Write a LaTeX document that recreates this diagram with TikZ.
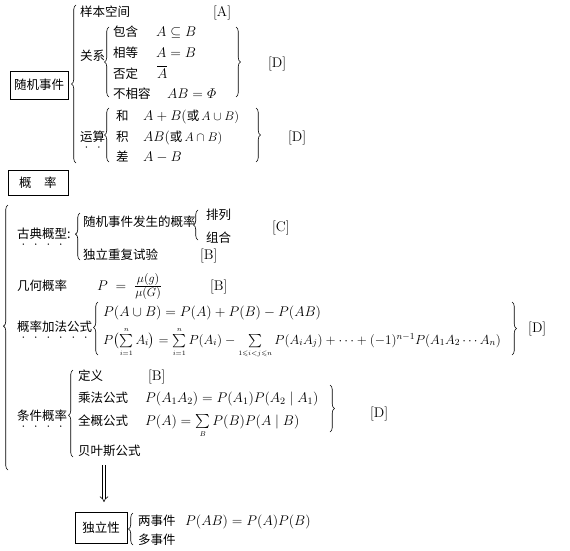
\RequirePackage{fix-cm}
\documentclass[tikz,border=0pt]{standalone}
\usepackage{amsmath,amssymb}
\usepackage[no-math]{fontspec}
\setmainfont{Noto Sans CJK SC}
\usetikzlibrary{decorations.pathreplacing,arrows.meta,calc}
\newcommand\lab[1]{$[\mathrm{#1}]$}
\newcommand\fracpart[1]{\mbox{\fontsize{12}{14}\selectfont$#1$}}
\tikzset{
  t/.style={anchor=base west, inner sep=0pt, font=\fontsize{12.5}{15}\selectfont},
  m/.style={anchor=base west, inner sep=0pt, font=\fontsize{14}{17}\selectfont},
  brc/.style={decorate, decoration={brace, amplitude=4.5pt, #1}, line width=0.6pt},
  brc/.default={aspect=0.5},
  boxed/.style={draw, line width=0.8pt, inner sep=0pt, font=\fontsize{12.5}{15}\selectfont},
  emdot/.style={fill=black},
}
\newcommand\dotsunder[2]{\foreach \i in {1,...,#2} \fill[emdot] ($(#1.base west)+(12.5*\i-6.25,6)$) circle (0.75pt);}
\begin{document}
\begin{tikzpicture}[x=1pt,y=-1pt]
\useasboundingbox (0,0) rectangle (570,551);
% ---------- section 1 ----------
\node[boxed, minimum width=58pt, minimum height=28pt] (sjsj) at (39,85) {随机事件};
\draw[brc] (76,163) -- (76,5);
\node[t] (ybkj) at (80,17) {样本空间};
\node[m] (labA) at (213,17) {\lab{A}};
\node[t] (gx) at (80,60) {关系};
\draw[brc] (109,97) -- (109,27);
\node[t] (bh) at (113,37) {包含};
\node[m] (bhm) at (156,37) {$A\subseteq B$};
\node[t] (xd) at (113,58) {相等};
\node[m] (xdm) at (156,58) {$A = B$};
\node[t] (fd) at (113,78) {否定};
\node[m] (fdm) at (157,78) {$\overline{A}$};
\node[t] (bxr) at (113,98) {不相容};
\node[m] (bxrm) at (167,98) {$AB = \varPhi$};
\draw[brc] (236,27) -- (236,97);
\node[m] (labD1) at (268,67) {\lab{D}};
\node[t] (ys) at (80,141) {运算};
\dotsunder{ys}{2}
\draw[brc] (109,162) -- (109,108);
\node[t] (he) at (116,120) {和};
\node[m] (hem) at (143,120) {$A+B($\fontsize{12.5}{15}\selectfont 或$\,A\cup B)$};
\node[t] (ji) at (116,141) {积};
\node[m] (jim) at (143,141) {$AB($\fontsize{12.5}{15}\selectfont 或$\,A\cap B)$};
\node[t] (cha) at (116,161) {差};
\node[m] (cham) at (143,161) {$A-B$};
\draw[brc] (256,108) -- (256,162);
\node[m] (labD2) at (288,141) {\lab{D}};
% ---------- section 2 ----------
\node[boxed, minimum width=60pt, minimum height=25pt] (gl) at (38,183) {概\quad 率};
\draw[brc={aspect=0.543}] (8,470) -- (8,205);
\node[t] (gdgx) at (17,238) {古典概型:};
\dotsunder{gdgx}{4}
\draw[brc={aspect=0.55}] (80,260) -- (80,213);
\node[t] (fsgl) at (83,226) {随机事件发生的概率};
\draw[brc] (198,240) -- (198,210);
\node[t] (pl) at (206,219) {排列};
\node[t] (zh) at (206,242) {组合};
\node[m] (labC) at (272,231) {\lab{C}};
\node[t] (dlcf) at (83,259) {独立重复试验};
\node[m] (labB1) at (200,259) {\lab{B}};
\node[t] (jhgl) at (17,290) {几何概率};
\node[m] (jhglm) at (97,290) {$P\;=\;\frac{\fracpart{\mu(g)}}{\fracpart{\mu(G)}}$};
\node[m] (labB2) at (210,290) {\lab{B}};
\node[t] (jf) at (17,331) {概率加法公式};
\dotsunder{jf}{6}
\draw[brc={aspect=0.52}] (98,355) -- (98,302);
\node[m] (jf1) at (103,316) {$P(A\cup B)=P(A)+P(B)-P(AB)$};
\node[m, font=\fontsize{13.2}{16}\selectfont] (jf2) at (103,344) {$P\bigl(\sum\limits_{\scriptscriptstyle i=1}^{\scriptscriptstyle n}A_i\bigr)=\sum\limits_{\scriptscriptstyle i=1}^{\scriptscriptstyle n}P(A_i)-\sum\limits_{\scriptscriptstyle 1\leqslant i<j\leqslant n}P(A_iA_j)+\cdots+(-1)^{n-1}P(A_1A_2\cdots A_n)$};
\draw[brc] (512,302) -- (512,355);
\node[m] (labD3) at (528,332) {\lab{D}};
\node[t] (tjgl) at (17,420) {条件概率};
\dotsunder{tjgl}{4}
\draw[brc={aspect=0.48}] (73,457) -- (73,370);
\node[t] (dy) at (78,380) {定义};
\node[m] (labB3) at (148,380) {\lab{B}};
\node[t] (cf) at (78,402) {乘法公式};
\node[m] (cfm) at (145,402) {$P(A_1A_2)=P(A_1)P(A_2\mid A_1)$};
\node[t] (qg) at (78,425) {全概公式};
\node[m] (qgm) at (145,425) {$P(A)=\sum\limits_{\scriptscriptstyle B}P(B)P(A\mid B)$};
\node[t] (by) at (78,455) {贝叶斯公式};
\draw[brc] (330,385) -- (330,432);
\node[m] (labD4) at (370,417) {\lab{D}};
\coordinate (arr) at (104,465);
\node[boxed, minimum width=52pt, minimum height=31pt] (dlx) at (101,528) {独立性};
\draw[double, double distance=2.4pt, line width=0.6pt, -{Implies}, shorten >=10pt] (arr) -- (dlx.north -| arr);
\draw[brc] (133,545) -- (133,513);
\node[t] (lsj) at (138,525) {两事件};
\node[m] (lsjm) at (185,525) {$P(AB)=P(A)P(B)$};
\node[t] (dsj) at (138,544) {多事件};
\end{tikzpicture}
\end{document}
